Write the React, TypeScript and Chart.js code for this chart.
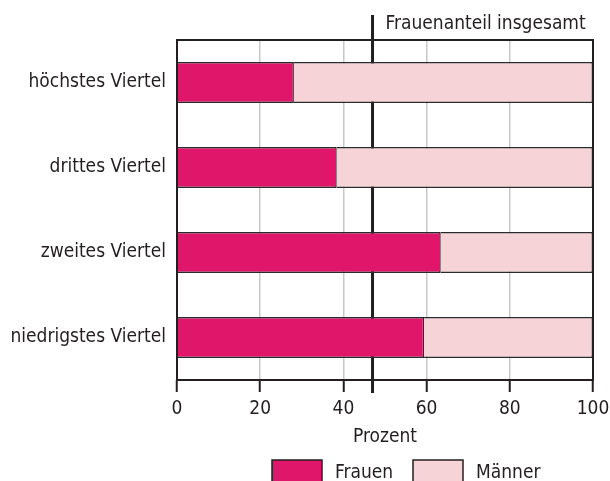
import React, { useEffect, useRef } from "react";
import { Chart, registerables } from "chart.js";

Chart.register(...registerables);

const categories = ["höchstes Viertel", "drittes Viertel", "zweites Viertel", "niedrigstes Viertel"];
const frauen = [28.1, 38.4, 63.4, 59.4];
const maenner = [71.9, 61.6, 36.6, 40.6];
const totalShare = 47;
const totalLabel = "Frauenanteil insgesamt";
const xTicks = [0, 20, 40, 60, 80, 100];
const xTitle = "Prozent";
const seriesNames = ["Frauen", "Männer"];

const FONT = "'DejaVu Sans Condensed', 'DejaVu Sans', sans-serif";
const FS = 19;
const INK = "#231f20";
const PINK = "#e0166b";
const LIGHT = "#f6d3d7";

const extrasPlugin = {
  id: "extras",
  beforeDatasetsDraw(chart: any) {
    const { ctx, chartArea, scales } = chart;
    ctx.save();
    const x = scales.x.getPixelForValue(totalShare);
    ctx.strokeStyle = INK;
    ctx.lineWidth = 3;
    ctx.beginPath();
    ctx.moveTo(x, 15);
    ctx.lineTo(x, chartArea.bottom + 13);
    ctx.stroke();
    ctx.fillStyle = INK;
    ctx.font = `${FS}px ${FONT}`;
    ctx.textAlign = "left";
    ctx.textBaseline = "middle";
    ctx.fillText(totalLabel, x + 13, 24);
    ctx.restore();
  },
  afterDatasetsDraw(chart: any) {
    const { ctx, chartArea } = chart;
    ctx.save();
    ctx.strokeStyle = INK;
    ctx.lineWidth = 2;
    ctx.strokeRect(chartArea.left, chartArea.top, chartArea.right - chartArea.left, chartArea.bottom - chartArea.top);
    ctx.font = `${FS}px ${FONT}`;
    const ds = chart.data.datasets;
    const items = [
      { x: 272, tx: 335 },
      { x: 413, tx: 476 },
    ];
    ds.forEach((d: any, i: number) => {
      const it = items[i];
      ctx.fillStyle = d.backgroundColor;
      ctx.fillRect(it.x, 460, 50, 26);
      ctx.strokeStyle = INK;
      ctx.lineWidth = 1.5;
      ctx.strokeRect(it.x, 460, 50, 26);
      ctx.fillStyle = INK;
      ctx.textAlign = "left";
      ctx.textBaseline = "middle";
      ctx.fillText(d.label, it.tx, 473);
    });
    ctx.restore();
  },
};

export default function App() {
  const ref = useRef<HTMLCanvasElement>(null);
  useEffect(() => {
    if (!ref.current) return;
    const chart = new Chart(ref.current, {
      type: "bar",
      data: {
        labels: categories,
        datasets: [
          {
            label: seriesNames[0],
            data: frauen,
            backgroundColor: PINK,
            borderColor: "#2a2a2a",
            borderWidth: 1.5,
            barPercentage: 0.48,
            categoryPercentage: 1,
          },
          {
            label: seriesNames[1],
            data: maenner,
            backgroundColor: LIGHT,
            borderColor: "#2a2a2a",
            borderWidth: 1.5,
            barPercentage: 0.48,
            categoryPercentage: 1,
          },
        ],
      },
      options: {
        indexAxis: "y",
        animation: false,
        responsive: false,
        maintainAspectRatio: false,
        layout: { padding: { top: 40, right: 17, left: 0, bottom: 0 } },
        plugins: { legend: { display: false }, tooltip: { enabled: false } },
        scales: {
          x: {
            stacked: true,
            min: 0,
            max: 100,
            afterBuildTicks: (scale: any) => {
              scale.ticks = xTicks.map((v) => ({ value: v }));
            },
            afterFit: (scale: any) => {
              scale.height = 101;
              scale.paddingLeft = 0;
              scale.paddingRight = 0;
            },
            grid: {
              color: "#c8c8c8",
              lineWidth: 1.5,
              tickColor: INK,
              tickWidth: 2,
              tickLength: 12,
            },
            border: { display: false },
            ticks: {
              color: INK,
              font: { family: FONT, size: FS },
              padding: 6,
              maxRotation: 0,
            },
            title: {
              display: true,
              text: xTitle,
              color: INK,
              font: { family: FONT, size: FS },
              padding: { top: 0, bottom: 33 },
            },
          },
          y: {
            stacked: true,
            afterFit: (scale: any) => {
              scale.width = 177;
            },
            grid: { display: false, drawTicks: false },
            border: { display: false },
            ticks: {
              color: INK,
              font: { family: FONT, size: FS },
              padding: 11,
            },
          },
        },
      },
      plugins: [extrasPlugin],
    } as any);
    return () => chart.destroy();
  }, []);
  return (
    <div style={{ position: "fixed", left: 0, top: 0, width: 610, height: 481, overflow: "hidden", background: "#fff" }}>
      <canvas ref={ref} width={610} height={481} style={{ width: 610, height: 481, display: "block" }} />
    </div>
  );
}
